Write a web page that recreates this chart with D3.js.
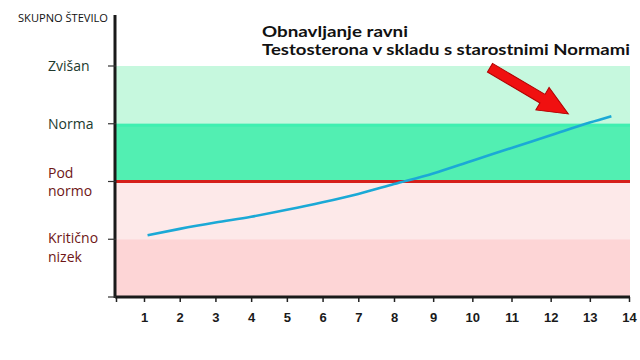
<!DOCTYPE html>
<html><head><meta charset="utf-8">
<script src="https://cdn.jsdelivr.net/npm/d3@7"></script>
<style>body{margin:0;background:#fff}svg{display:block}</style>
</head><body>
<svg id="c" width="640" height="360"></svg>
<script>
// ---- data ----
const xTicks = [1,2,3,4,5,6,7,8,9,10,11,12,13,14];
const levelLabels = [
  {v:4, lines:["Zvišan"], dark:true},
  {v:3, lines:["Norma"], dark:true},
  {v:2, lines:["Pod","normo"], dark:false},
  {v:1, lines:["Kritično","nizek"], dark:false}
];
const bands = [
  {from:3, to:4, color:"#c6f8de"},
  {from:2, to:3, color:"#52efb2"},
  {from:1, to:2, color:"#fde9e9"},
  {from:0, to:1, color:"#fdd5d6"}
];
const lineX = [1.1,2,3,4,5,6,7,8,9,10,11,12,13,13.55];
const lineY = [1.07,1.18,1.29,1.39,1.51,1.64,1.785,1.955,2.14,2.36,2.58,2.80,3.02,3.13];
const referenceLevel = 2;
const yTitle = "SKUPNO ŠTEVILO";
const titleLines = ["Obnavljanje ravni","Testosterona v skladu s starostnimi Normami"];
const arrowFrom = {x:10.45, y:3.97};
const arrowTo = {x:12.45, y:3.17};

const svg = d3.select("#c");
const pL = 116, pR = 630, pB = 297, pT = 15;

const x = d3.scaleLinear().domain([0,1,8,14]).range([116,144,394,629]);
const y = d3.scaleLinear().domain([0,4]).range([297,66]);

// bands
svg.selectAll("rect.band").data(bands).enter().append("rect")
  .attr("x", pL).attr("width", pR-pL)
  .attr("y", d=>y(d.to)).attr("height", d=>y(d.from)-y(d.to))
  .attr("fill", d=>d.color);
svg.append("rect").attr("x",pL).attr("width",pR-pL)
  .attr("y",y(3)).attr("height",3).attr("fill","#3fefb0");

// red reference line
svg.append("line").attr("x1",pL).attr("x2",pR)
  .attr("y1",y(referenceLevel)).attr("y2",y(referenceLevel))
  .attr("stroke","#d61f1a").attr("stroke-width",3);

// blue line
const pts = lineX.map((d,i)=>[d,lineY[i]]);
svg.append("path").datum(pts)
  .attr("d", d3.line().x(d=>x(d[0])).y(d=>y(d[1])).curve(d3.curveMonotoneX))
  .attr("fill","none").attr("stroke","#1ba9d6").attr("stroke-width",2.6);

// x axis
const xAxis = svg.append("g").attr("transform",`translate(0,${pB})`)
  .call(d3.axisBottom(x).tickValues([0].concat(xTicks)).tickSize(5).tickPadding(11)
    .tickFormat(d=>d===0?"":d));
xAxis.select(".domain").remove();
xAxis.selectAll(".tick line").attr("stroke","#222").attr("stroke-width",1.5);
xAxis.selectAll(".tick text").attr("font-family","Liberation Sans, Arial, sans-serif")
  .attr("font-size",13).attr("font-weight","bold").attr("fill","#1a1a1a");
svg.append("line").attr("x1",pL-1).attr("x2",pR).attr("y1",pB).attr("y2",pB)
  .attr("stroke","#1a1a1a").attr("stroke-width",3);

// y axis line
svg.append("line").attr("x1",pL-1).attr("x2",pL-1).attr("y1",pT).attr("y2",pB+1)
  .attr("stroke","#1a1a1a").attr("stroke-width",3);
const yt = svg.append("g");
[0,1,2,3,4].forEach(v=>{
  yt.append("line").attr("x1",pL-8).attr("x2",pL).attr("y1",y(v)).attr("y2",y(v))
    .attr("stroke","#333").attr("stroke-width",1.2);
});

// level labels
const lab = svg.append("g").attr("font-family","Open Sans, sans-serif").attr("font-size",14);
levelLabels.forEach(l=>{
  const n = l.lines.length;
  l.lines.forEach((s,i)=>{
    lab.append("text").attr("x",48)
      .attr("fill", l.dark ? "#213a2e" : "#6e1616")
      .attr("y", y(l.v) + 5 + (n===2 ? (l.v===2 ? -9 + i*18 : -1 + i*19) : 0))
      .text(s);
  });
});

// y title
svg.append("text").attr("x",18).attr("y",22).attr("font-family","Open Sans, sans-serif")
  .attr("font-size",10).attr("fill","#111").attr("textLength",90).attr("lengthAdjust","spacingAndGlyphs")
  .text(yTitle);

// title
const tAttrs = [{y:37, len:146},{y:55, len:368}];
titleLines.forEach((s,i)=>{
  svg.append("text").attr("x",262).attr("y",tAttrs[i].y)
    .attr("font-family","Lato, sans-serif").attr("font-weight","bold")
    .attr("font-size",15).attr("fill","#111")
    .attr("textLength",tAttrs[i].len).attr("lengthAdjust","spacingAndGlyphs")
    .text(s);
});

// arrow
const ax1 = x(arrowFrom.x), ay1 = y(arrowFrom.y), ax2 = x(arrowTo.x), ay2 = y(arrowTo.y);
const ang = Math.atan2(ay2-ay1, ax2-ax1);
const len = Math.hypot(ax2-ax1, ay2-ay1);
const sw = 5, hw = 13, hl = 30;
const shape = [[0,-sw],[len-hl,-sw],[len-hl,-hw],[len,0],[len-hl,hw],[len-hl,sw],[0,sw]];
svg.append("path")
  .attr("d", d3.line()(shape)+"Z")
  .attr("transform",`translate(${ax1},${ay1}) rotate(${ang*180/Math.PI})`)
  .attr("fill","#f01010").attr("stroke","#b00000").attr("stroke-width",1);
</script>
</body></html>
